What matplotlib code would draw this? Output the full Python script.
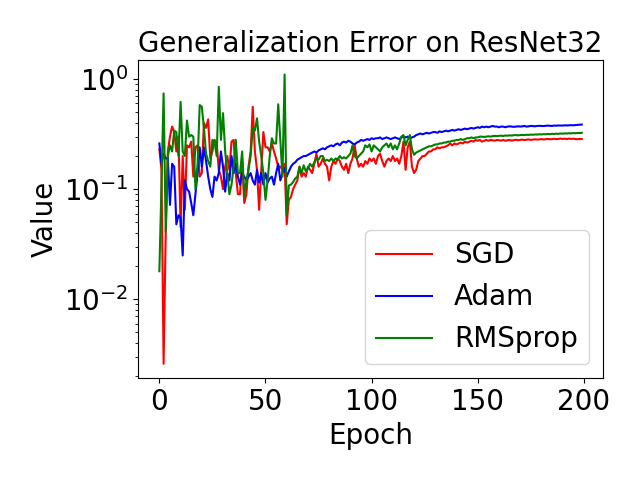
import numpy as np
import matplotlib
matplotlib.use('Agg')
import matplotlib.pyplot as plt

plt.rcParams.update({'font.size': 20})

epochs = np.arange(200)

sgd = [
    0.23, 0.15, 0.0026, 0.04, 0.22, 0.30, 0.37, 0.33, 0.22, 0.30,
    0.045, 0.2, 0.065, 0.25, 0.24, 0.27, 0.13, 0.24, 0.25, 0.13,
    0.14, 0.40, 0.36, 0.43, 0.19, 0.22, 0.28, 0.26, 0.15, 0.13,
    0.10, 0.16, 0.20, 0.15, 0.27, 0.28, 0.14, 0.09, 0.09, 0.19,
    0.075, 0.09, 0.16, 0.22, 0.56, 0.22, 0.15, 0.065, 0.15, 0.33,
    0.24, 0.24, 0.22, 0.26, 0.22, 0.19, 0.16, 0.16, 0.15, 0.17,
    0.048, 0.08, 0.085, 0.10, 0.11, 0.12, 0.16, 0.13, 0.14, 0.13,
    0.16, 0.15, 0.14, 0.17, 0.21, 0.16, 0.17, 0.19, 0.17, 0.16,
    0.12, 0.16, 0.18, 0.17, 0.19, 0.18, 0.16, 0.15, 0.17, 0.14,
    0.17, 0.19, 0.25, 0.19, 0.16, 0.17, 0.16, 0.18, 0.17, 0.19,
    0.18, 0.19, 0.17, 0.2, 0.21, 0.18, 0.16, 0.18, 0.19, 0.18,
    0.2, 0.18, 0.19, 0.17, 0.2, 0.27, 0.15, 0.24, 0.27, 0.16,
    0.14, 0.15, 0.18, 0.19, 0.2, 0.2, 0.21, 0.22, 0.22, 0.23,
    0.23, 0.24, 0.235, 0.24, 0.24, 0.245, 0.25, 0.26, 0.25, 0.26,
    0.255, 0.26, 0.265, 0.26, 0.27, 0.265, 0.27, 0.275, 0.27, 0.28,
    0.275, 0.28, 0.27, 0.275, 0.28, 0.275, 0.28, 0.278, 0.275, 0.28,
    0.278, 0.276, 0.28, 0.275, 0.278, 0.28, 0.276, 0.279, 0.281, 0.278,
    0.28, 0.282, 0.279, 0.281, 0.283, 0.28, 0.282, 0.284, 0.282, 0.283,
    0.285, 0.283, 0.284, 0.286, 0.284, 0.285, 0.287, 0.285, 0.286, 0.288,
    0.286, 0.287, 0.285, 0.288, 0.286, 0.287, 0.285, 0.284, 0.286, 0.285,
]

adam = [
    0.26, 0.17, 0.21, 0.19, 0.19, 0.072, 0.17, 0.16, 0.048, 0.058,
    0.055, 0.025, 0.12, 0.10, 0.095, 0.075, 0.058, 0.09, 0.14, 0.24,
    0.16, 0.24, 0.18, 0.13, 0.10, 0.085, 0.13, 0.12, 0.14, 0.22,
    0.16, 0.095, 0.14, 0.12, 0.20, 0.14, 0.17, 0.13, 0.11, 0.14,
    0.13, 0.12, 0.13, 0.14, 0.12, 0.11, 0.15, 0.115, 0.14, 0.11,
    0.14, 0.115, 0.125, 0.13, 0.11, 0.14, 0.17, 0.12, 0.14, 0.155,
    0.13, 0.145, 0.16, 0.17, 0.175, 0.185, 0.19, 0.195, 0.20, 0.2,
    0.205, 0.21, 0.215, 0.22, 0.215, 0.225, 0.23, 0.235, 0.23, 0.24,
    0.245, 0.25, 0.245, 0.255, 0.26, 0.25, 0.265, 0.27, 0.265, 0.275,
    0.27, 0.26, 0.255, 0.265, 0.27, 0.28, 0.275, 0.28, 0.285, 0.28,
    0.29, 0.285, 0.29, 0.29, 0.295, 0.285, 0.29, 0.295, 0.29, 0.285,
    0.29, 0.295, 0.29, 0.285, 0.295, 0.3, 0.295, 0.3, 0.29, 0.295,
    0.30, 0.31, 0.315, 0.32, 0.315, 0.32, 0.325, 0.32, 0.325, 0.33,
    0.33, 0.325, 0.335, 0.33, 0.335, 0.34, 0.335, 0.34, 0.345, 0.34,
    0.345, 0.35, 0.345, 0.35, 0.355, 0.35, 0.355, 0.36, 0.355, 0.36,
    0.365, 0.36, 0.37, 0.365, 0.37, 0.365, 0.37, 0.375, 0.37, 0.37,
    0.365, 0.37, 0.37, 0.365, 0.37, 0.372, 0.37, 0.368, 0.37, 0.372,
    0.37, 0.372, 0.375, 0.37, 0.372, 0.375, 0.374, 0.372, 0.375, 0.376,
    0.375, 0.374, 0.376, 0.378, 0.376, 0.375, 0.378, 0.377, 0.379, 0.378,
    0.378, 0.38, 0.379, 0.38, 0.381, 0.38, 0.382, 0.383, 0.385, 0.386,
]

rmsprop = [
    0.018, 0.11, 0.74, 0.041, 0.2, 0.25, 0.22, 0.34, 0.33, 0.2,
    0.62, 0.22, 0.2, 0.42, 0.3, 0.31, 0.3, 0.10, 0.17, 0.58,
    0.56, 0.36, 0.21, 0.18, 0.16, 0.28, 0.27, 0.2, 0.85, 0.28,
    0.49, 0.22, 0.14, 0.09, 0.11, 0.16, 0.28, 0.14, 0.14, 0.22,
    0.086, 0.12, 0.15, 0.2, 0.36, 0.34, 0.44, 0.27, 0.2, 0.14,
    0.08, 0.12, 0.2, 0.29, 0.26, 0.26, 0.59, 0.28, 0.13, 1.1,
    0.058, 0.108, 0.11, 0.116, 0.125, 0.13, 0.16, 0.14, 0.165, 0.145,
    0.155, 0.17, 0.16, 0.175, 0.19, 0.185, 0.2, 0.2, 0.18, 0.185,
    0.18, 0.19, 0.18, 0.19, 0.185, 0.2, 0.19, 0.195, 0.19, 0.2,
    0.21, 0.25, 0.2, 0.19, 0.2, 0.21, 0.22, 0.25, 0.24, 0.255,
    0.22, 0.25, 0.24, 0.23, 0.22, 0.24, 0.25, 0.26, 0.24, 0.26,
    0.23, 0.25, 0.23, 0.26, 0.3, 0.31, 0.25, 0.28, 0.31, 0.23,
    0.205, 0.215, 0.22, 0.225, 0.23, 0.235, 0.24, 0.245, 0.245, 0.25,
    0.255, 0.255, 0.26, 0.26, 0.265, 0.265, 0.27, 0.27, 0.275, 0.275,
    0.28, 0.28, 0.285, 0.28, 0.285, 0.29, 0.29, 0.295, 0.29, 0.295,
    0.295, 0.3, 0.3, 0.298, 0.3, 0.302, 0.3, 0.303, 0.305, 0.303,
    0.305, 0.306, 0.304, 0.307, 0.306, 0.308, 0.307, 0.309, 0.31, 0.308,
    0.31, 0.311, 0.31, 0.312, 0.311, 0.313, 0.312, 0.314, 0.313, 0.315,
    0.314, 0.316, 0.315, 0.317, 0.316, 0.318, 0.317, 0.319, 0.318, 0.32,
    0.319, 0.321, 0.32, 0.322, 0.321, 0.323, 0.322, 0.324, 0.323, 0.325,
]

f, ax = plt.subplots(figsize=(6.4, 4.8), dpi=100)
ax.plot(epochs, sgd, 'r', label='SGD')
ax.plot(epochs, adam, 'b', label='Adam')
ax.plot(epochs, rmsprop, 'g', label='RMSprop')
ax.set_yscale('log')
ax.set_xlabel('Epoch')
ax.set_ylabel('Value')
ax.set_title('Generalization Error on ResNet32', fontsize=20)
ax.legend(loc='lower right')
f.subplots_adjust(left=0.216, right=0.942, top=0.875, bottom=0.212)
f.savefig('out.png')
